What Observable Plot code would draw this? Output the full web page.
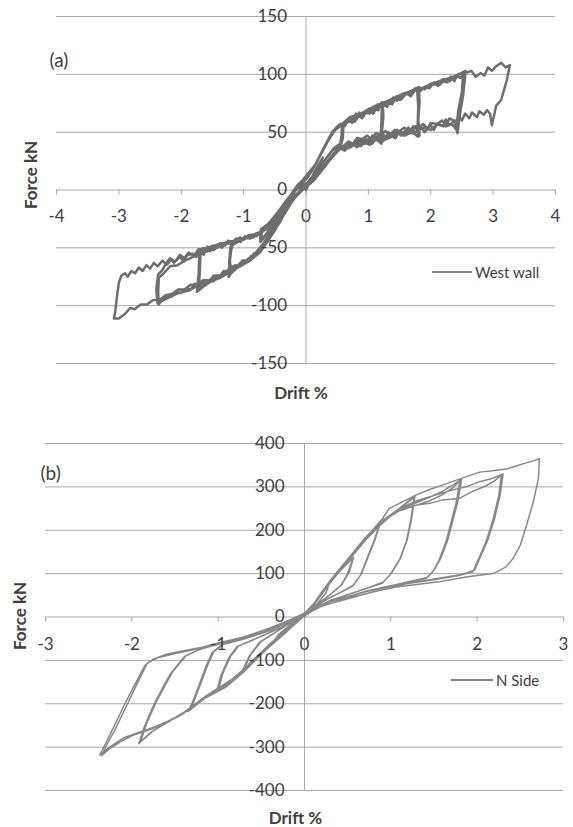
<!DOCTYPE html>
<html><head><meta charset="utf-8">
<script src="https://cdn.jsdelivr.net/npm/d3@7"></script>
<script src="https://cdn.jsdelivr.net/npm/@observablehq/plot@0.6"></script>
<style>
body{margin:0;background:#fff;}
#wrap{position:relative;width:573px;height:827px;font-family:Lato,"Open Sans",sans-serif;}
.panel{position:relative;width:573px;}
.panel svg{display:block;}
.legend{position:absolute;display:flex;align-items:center;height:18px;font-size:15px;color:#404040;white-space:nowrap;}
.legend .sw{display:inline-block;height:0;border-top:2px solid #858585;margin-right:3px;}
</style></head><body>
<div id="wrap"></div>
<script>
// ---- Panel (a): West wall, drift % vs force kN ----
const aXTicks = [-4,-3,-2,-1,0,1,2,3,4];
const aYTicks = [-150,-100,-50,0,50,100,150];
const westWall = [
[0,0],[0.06,7],[0.13,15],[0.2,22],[0.27,28],[0.22,22],[0.12,13],[0.02,6],[-0.08,1],[-0.18,-6],[-0.28,-14],[-0.36,-20],[-0.3,-12],[-0.2,-3],[-0.1,5],[0,9],
[0.1,17],[0.2,27],[0.3,37],[0.38,45],[0.45,51],[0.52,54],[0.58,57],[0.57,47],[0.55,40],[0.46,37],[0.36,30],[0.25,22],[0.12,12],[0,4],[-0.12,-2],[-0.25,-9],[-0.38,-19],[-0.5,-29],[-0.62,-37],[-0.7,-43],[-0.72,-34],[-0.6,-29],[-0.45,-19],[-0.3,-8],[-0.15,2],[0,11],
[0.12,19],[0.24,31],[0.35,42],[0.44,50],[0.52,55],[0.6,58],[0.59,45],[0.56,39],[0.44,35],[0.33,28],[0.2,18],[0.06,7],[-0.08,0],[-0.22,-7],[-0.36,-17],[-0.5,-28],[-0.64,-38],[-0.73,-45],[-0.74,-36],[-0.62,-31],[-0.46,-21],[-0.3,-9],[-0.14,3],[0,12],
[0.15,22],[0.3,37],[0.42,50],[0.52,56],[0.62,58],[0.7,62],[0.78,59],[0.86,65],[0.95,67],[1.02,66],[1.1,71],[1.17,72],[1.23,75],[1.24,63],[1.22,52],[1.23,42],[1.15,46],[1.06,40],[0.97,43],[0.88,38],[0.78,41],[0.68,36],[0.58,38],[0.48,33],[0.38,27],[0.24,17],[0.08,6],[-0.08,0],[-0.22,-7],[-0.36,-18],[-0.5,-30],[-0.62,-42],[-0.75,-51],[-0.88,-58],[-1.0,-63],[-1.1,-67],[-1.2,-72],[-1.22,-61],[-1.2,-52],[-1.17,-46],[-1.05,-43],[-0.92,-41],[-0.8,-40],[-0.68,-35],[-0.55,-30],[-0.42,-21],[-0.28,-8],[-0.12,4],[0,11],
[0.14,21],[0.28,35],[0.4,48],[0.5,55],[0.6,57],[0.7,63],[0.8,62],[0.9,66],[1.0,69],[1.08,68],[1.16,73],[1.22,76],[1.21,60],[1.2,47],[1.21,40],[1.12,44],[1.02,39],[0.92,42],[0.82,37],[0.72,40],[0.62,35],[0.52,36],[0.42,30],[0.3,22],[0.16,12],[0.02,3],[-0.12,-2],[-0.26,-10],[-0.4,-21],[-0.54,-34],[-0.68,-46],[-0.82,-55],[-0.96,-61],[-1.08,-66],[-1.18,-70],[-1.24,-75],[-1.23,-62],[-1.21,-49],[-1.1,-45],[-0.98,-42],[-0.85,-41],[-0.72,-37],[-0.6,-32],[-0.46,-24],[-0.32,-11],[-0.16,2],[0,10],
[0.15,22],[0.3,38],[0.42,50],[0.55,57],[0.62,55],[0.68,61],[0.74,58],[0.8,66],[0.9,62],[1.0,70],[1.06,67],[1.1,71],[1.16,69],[1.2,75],[1.3,72],[1.4,80],[1.46,77],[1.5,81],[1.6,84],[1.68,81],[1.76,87],[1.81,89],[1.82,76],[1.8,61],[1.82,47],[1.76,55],[1.72,51],[1.66,49],[1.62,53],[1.52,47],[1.46,52],[1.42,45],[1.32,50],[1.26,43],[1.22,47],[1.12,43],[1.06,47],[1.02,40],[0.92,44],[0.86,38],[0.82,42],[0.72,37],[0.66,41],[0.62,34],[0.52,37],[0.42,29],[0.28,19],[0.12,8],[-0.04,1],[-0.2,-8],[-0.34,-20],[-0.48,-33],[-0.62,-45],[-0.76,-55],[-0.84,-55],[-0.9,-61],[-1.0,-61],[-1.05,-66],[-1.14,-65],[-1.2,-71],[-1.28,-70],[-1.35,-75],[-1.42,-74],[-1.48,-79],[-1.56,-78],[-1.6,-82],[-1.7,-85],[-1.75,-88],[-1.72,-72],[-1.71,-53],[-1.64,-56],[-1.6,-51],[-1.54,-53],[-1.5,-48],[-1.42,-50],[-1.38,-46],[-1.3,-48],[-1.25,-44],[-1.16,-46],[-1.12,-42],[-1.0,-43],[-0.92,-39],[-0.86,-41],[-0.72,-37],[-0.58,-31],[-0.44,-22],[-0.3,-9],[-0.14,4],[0,11],
[0.15,22],[0.3,38],[0.43,51],[0.56,56],[0.7,63],[0.84,65],[0.98,69],[1.12,73],[1.26,76],[1.4,79],[1.54,83],[1.66,85],[1.78,88],[1.8,72],[1.79,56],[1.8,46],[1.7,50],[1.58,47],[1.46,49],[1.34,45],[1.2,46],[1.06,42],[0.94,40],[0.8,41],[0.66,37],[0.54,36],[0.44,31],[0.3,21],[0.14,9],[-0.02,2],[-0.18,-6],[-0.32,-18],[-0.46,-31],[-0.6,-43],[-0.74,-54],[-0.9,-61],[-1.06,-66],[-1.22,-71],[-1.38,-76],[-1.52,-79],[-1.64,-83],[-1.72,-87],[-1.7,-68],[-1.69,-51],[-1.58,-50],[-1.46,-48],[-1.32,-46],[-1.18,-44],[-1.04,-43],[-0.9,-39],[-0.76,-38],[-0.62,-33],[-0.48,-25],[-0.34,-12],[-0.18,1],[0,10],
[0.15,22],[0.3,38],[0.42,50],[0.55,57],[0.62,56],[0.7,61],[0.78,60],[0.85,67],[0.92,64],[1.0,69],[1.08,66],[1.15,74],[1.22,71],[1.3,76],[1.38,74],[1.45,81],[1.52,78],[1.6,83],[1.68,82],[1.75,88],[1.82,85],[1.9,89],[1.98,88],[2.05,93],[2.12,90],[2.2,94],[2.26,93],[2.32,98],[2.38,94],[2.42,99],[2.5,101],[2.56,103],[2.52,82],[2.46,63],[2.43,49],[2.38,60],[2.3,56],[2.24,61],[2.2,55],[2.1,57],[2.05,52],[2.0,56],[1.9,50],[1.84,55],[1.8,51],[1.7,49],[1.64,54],[1.6,48],[1.5,51],[1.44,45],[1.4,49],[1.3,44],[1.24,48],[1.2,43],[1.1,45],[1.04,40],[1.0,44],[0.9,39],[0.84,43],[0.8,38],[0.7,40],[0.64,35],[0.6,38],[0.5,33],[0.4,27],[0.26,18],[0.1,7],[-0.06,0],[-0.2,-8],[-0.35,-21],[-0.5,-35],[-0.65,-47],[-0.8,-56],[-0.88,-57],[-0.95,-62],[-1.02,-61],[-1.1,-67],[-1.18,-66],[-1.25,-71],[-1.32,-70],[-1.4,-76],[-1.48,-74],[-1.55,-79],[-1.62,-78],[-1.7,-83],[-1.78,-81],[-1.85,-86],[-1.92,-85],[-2.0,-89],[-2.08,-88],[-2.15,-92],[-2.22,-91],[-2.28,-95],[-2.38,-98],[-2.4,-86],[-2.37,-73],[-2.3,-69],[-2.26,-65],[-2.22,-64],[-2.16,-60],[-2.12,-63],[-2.02,-58],[-1.96,-62],[-1.92,-57],[-1.82,-55],[-1.76,-58],[-1.72,-53],[-1.6,-53],[-1.54,-49],[-1.48,-52],[-1.36,-46],[-1.3,-48],[-1.24,-44],[-1.12,-45],[-1.06,-41],[-1.0,-43],[-0.86,-39],[-0.72,-36],[-0.58,-31],[-0.44,-22],[-0.3,-9],[-0.14,4],[0,11],
[0.15,22],[0.3,38],[0.44,51],[0.58,57],[0.74,63],[0.9,66],[1.06,71],[1.22,73],[1.38,79],[1.54,81],[1.7,86],[1.86,88],[2.02,92],[2.18,95],[2.32,97],[2.44,100],[2.52,102],[2.5,85],[2.44,68],[2.41,52],[2.34,57],[2.24,55],[2.12,57],[2.0,52],[1.88,54],[1.76,50],[1.64,52],[1.52,48],[1.4,50],[1.28,46],[1.16,47],[1.04,43],[0.92,44],[0.8,40],[0.68,40],[0.56,36],[0.46,31],[0.32,22],[0.16,11],[0,3],[-0.16,-5],[-0.3,-16],[-0.45,-30],[-0.6,-43],[-0.76,-54],[-0.92,-61],[-1.08,-66],[-1.24,-71],[-1.4,-75],[-1.56,-80],[-1.72,-82],[-1.88,-87],[-2.04,-89],[-2.2,-93],[-2.32,-96],[-2.36,-99],[-2.37,-88],[-2.36,-76],[-2.28,-72],[-2.18,-66],[-2.06,-65],[-1.94,-61],[-1.82,-58],[-1.7,-55],[-1.58,-53],[-1.46,-49],[-1.34,-48],[-1.2,-45],[-1.06,-43],[-0.92,-41],[-0.78,-38],[-0.64,-34],[-0.5,-27],[-0.36,-14],[-0.2,-1],[0,10],
[0.15,22],[0.3,38],[0.42,50],[0.6,58],[0.7,59],[0.8,64],[0.9,63],[1.0,70],[1.1,68],[1.2,74],[1.3,73],[1.4,80],[1.5,78],[1.6,84],[1.7,83],[1.8,89],[1.9,87],[2.0,92],[2.1,91],[2.2,96],[2.3,94],[2.4,99],[2.47,97],[2.55,101],[2.65,103],[2.72,98],[2.8,101],[2.86,99],[2.92,106],[2.98,103],[3.05,107],[3.13,110],[3.2,106],[3.27,108],[3.22,95],[3.13,78],[3.05,73],[2.98,56],[2.95,66],[2.9,69],[2.85,65],[2.78,68],[2.74,63],[2.66,67],[2.62,62],[2.55,66],[2.5,60],[2.45,64],[2.4,59],[2.3,62],[2.25,56],[2.18,60],[2.1,57],[2.0,58],[1.95,53],[1.88,57],[1.8,54],[1.72,55],[1.65,50],[1.58,54],[1.5,51],[1.42,52],[1.35,47],[1.28,51],[1.2,48],[1.12,49],[1.05,44],[0.98,47],[0.9,44],[0.82,45],[0.75,40],[0.68,42],[0.6,38],[0.48,33],[0.34,23],[0.18,12],[0.02,4],[-0.14,-4],[-0.28,-14],[-0.42,-28],[-0.58,-41],[-0.76,-54],[-0.86,-57],[-0.95,-62],[-1.05,-63],[-1.15,-68],[-1.25,-69],[-1.35,-74],[-1.45,-74],[-1.55,-78],[-1.65,-78],[-1.75,-82],[-1.85,-82],[-1.95,-86],[-2.05,-86],[-2.15,-90],[-2.25,-91],[-2.35,-95],[-2.45,-95],[-2.55,-99],[-2.65,-99],[-2.75,-103],[-2.82,-102],[-2.9,-107],[-3.0,-111],[-3.08,-111],[-3.06,-106],[-3.03,-92],[-3.0,-80],[-2.96,-74],[-2.9,-72],[-2.86,-75],[-2.8,-70],[-2.74,-72],[-2.68,-67],[-2.62,-70],[-2.56,-65],[-2.5,-68],[-2.44,-63],[-2.38,-66],[-2.3,-61],[-2.25,-64],[-2.18,-59],[-2.1,-62],[-2.02,-56],[-1.95,-59],[-1.88,-54],[-1.8,-57],[-1.72,-51],[-1.65,-54],[-1.58,-49],[-1.5,-52],[-1.42,-47],[-1.35,-50],[-1.28,-45],[-1.2,-47],[-1.12,-42],[-1.05,-45],[-0.98,-40],[-0.9,-42],[-0.75,-37],[-0.6,-33],[-0.45,-24],[-0.3,-11],[-0.15,1],[0,6]
];

// ---- Panel (b): N Side ----
const bXTicks = [-3,-2,-1,0,1,2,3];
const bYTicks = [-400,-300,-200,-100,0,100,200,300,400];
const nSide = [
[0,0],[0.1,28],[0.2,58],[0.3,84],[0.25,56],[0.15,31],[0,6],[-0.15,-20],[-0.3,-48],[-0.4,-68],[-0.3,-40],[-0.15,-16],[0,8],
[0.12,34],[0.26,72],[0.4,104],[0.5,124],[0.56,136],[0.5,100],[0.42,72],[0.3,52],[0.15,29],[0,8],[-0.2,-26],[-0.4,-62],[-0.6,-100],[-0.7,-120],[-0.62,-86],[-0.5,-56],[-0.3,-31],[-0.1,-6],[0,6],
[0.12,33],[0.27,74],[0.41,106],[0.52,128],[0.57,138],[0.52,104],[0.43,74],[0.31,54],[0.16,31],[0,9],[-0.2,-25],[-0.41,-64],[-0.6,-103],[-0.72,-124],[-0.64,-90],[-0.52,-58],[-0.32,-33],[-0.12,-8],[0,5],
[0.1,28],[0.3,85],[0.5,131],[0.67,172],[0.8,200],[0.87,214],[0.81,178],[0.73,138],[0.65,97],[0.56,72],[0.42,57],[0.26,41],[0.1,20],[0,6],[-0.2,-29],[-0.45,-76],[-0.7,-121],[-0.88,-152],[-1.0,-170],[-0.95,-132],[-0.86,-92],[-0.76,-66],[-0.52,-46],[-0.26,-23],[0,5],
[0.1,27],[0.31,87],[0.51,133],[0.68,175],[0.81,203],[0.88,217],[0.82,180],[0.74,140],[0.66,100],[0.57,74],[0.43,58],[0.27,42],[0.11,21],[0,5],[-0.21,-31],[-0.46,-79],[-0.71,-124],[-0.9,-156],[-1.02,-173],[-0.97,-136],[-0.88,-95],[-0.78,-68],[-0.54,-48],[-0.28,-25],[0,4],
[0.1,25],[0.3,80],[0.5,128],[0.7,176],[0.9,216],[1.06,243],[1.18,262],[1.27,276],[1.23,222],[1.18,174],[1.1,132],[0.99,97],[0.9,78],[0.72,66],[0.5,51],[0.3,38],[0.1,18],[0,4],[-0.2,-31],[-0.45,-76],[-0.7,-126],[-0.9,-160],[-1.14,-185],[-1.32,-212],[-1.28,-194],[-1.2,-152],[-1.12,-110],[-1.05,-80],[-0.94,-63],[-0.7,-51],[-0.4,-31],[-0.15,-9],[0,7],
[0.1,26],[0.31,82],[0.51,130],[0.71,178],[0.91,218],[1.07,246],[1.19,265],[1.28,279],[1.24,226],[1.19,178],[1.11,135],[1.0,99],[0.91,80],[0.73,67],[0.51,52],[0.31,39],[0.11,19],[0,5],[-0.21,-33],[-0.46,-78],[-0.71,-128],[-0.92,-163],[-1.16,-188],[-1.35,-218],[-1.3,-198],[-1.22,-156],[-1.14,-113],[-1.07,-82],[-0.96,-64],[-0.72,-52],[-0.42,-32],[-0.16,-10],[0,6],
[0.1,25],[0.3,82],[0.5,130],[0.7,178],[0.9,218],[1.1,248],[1.3,264],[1.45,276],[1.6,290],[1.7,302],[1.8,315],[1.76,266],[1.7,220],[1.64,174],[1.56,132],[1.49,105],[1.41,89],[1.2,80],[1.0,71],[0.7,58],[0.5,46],[0.3,35],[0.1,15],[0,3],[-0.2,-30],[-0.45,-76],[-0.83,-142],[-1.14,-182],[-1.4,-220],[-1.6,-244],[-1.75,-262],[-1.9,-288],[-1.83,-246],[-1.72,-197],[-1.61,-156],[-1.53,-127],[-1.37,-89],[-1.2,-73],[-1.0,-62],[-0.7,-48],[-0.4,-28],[-0.15,-6],[0,8],
[0.1,26],[0.3,84],[0.5,132],[0.7,180],[0.9,220],[1.1,246],[1.3,258],[1.45,268],[1.6,282],[1.72,298],[1.82,318],[1.78,270],[1.72,224],[1.66,178],[1.58,136],[1.5,108],[1.42,91],[1.22,82],[1.0,72],[0.72,60],[0.5,47],[0.3,36],[0.1,16],[0,4],[-0.2,-31],[-0.46,-78],[-0.84,-145],[-1.15,-185],[-1.42,-224],[-1.62,-247],[-1.78,-266],[-1.92,-292],[-1.85,-250],[-1.74,-200],[-1.63,-158],[-1.55,-130],[-1.39,-91],[-1.22,-75],[-1.0,-63],[-0.72,-49],[-0.42,-29],[-0.16,-7],[0,8],
[0.1,25],[0.3,84],[0.5,132],[0.7,180],[0.9,220],[1.1,245],[1.3,258],[1.45,262],[1.6,270],[1.8,274],[1.95,290],[2.1,302],[2.2,314],[2.28,327],[2.25,280],[2.18,222],[2.1,172],[2.03,140],[1.95,104],[1.8,96],[1.5,86],[1.2,77],[1.0,70],[0.7,58],[0.5,45],[0.3,35],[0.1,15],[0,3],[-0.2,-32],[-0.45,-76],[-0.83,-143],[-1.14,-183],[-1.4,-222],[-1.6,-242],[-1.8,-258],[-1.95,-268],[-2.1,-279],[-2.25,-299],[-2.37,-318],[-2.3,-290],[-2.22,-258],[-2.07,-196],[-1.95,-150],[-1.85,-112],[-1.76,-98],[-1.6,-86],[-1.4,-78],[-1.2,-70],[-1.0,-60],[-0.7,-46],[-0.4,-25],[-0.15,-5],[0,9],
[0.1,26],[0.3,85],[0.5,133],[0.7,182],[0.9,222],[1.1,250],[1.3,268],[1.5,280],[1.7,292],[1.87,300],[2.03,312],[2.18,320],[2.3,330],[2.27,285],[2.2,226],[2.12,176],[2.05,144],[1.97,108],[1.82,98],[1.52,88],[1.22,78],[1.0,71],[0.72,59],[0.5,46],[0.3,36],[0.1,16],[0,4],[-0.2,-33],[-0.46,-78],[-0.85,-146],[-1.16,-186],[-1.42,-225],[-1.62,-246],[-1.82,-262],[-1.98,-272],[-2.12,-286],[-2.26,-304],[-2.35,-320],[-2.29,-294],[-2.2,-262],[-2.05,-200],[-1.92,-146],[-1.82,-106],[-1.7,-94],[-1.5,-84],[-1.3,-76],[-1.1,-66],[-0.8,-52],[-0.5,-34],[-0.2,-10],[0,8],
[0.1,25],[0.3,84],[0.5,132],[0.7,180],[0.9,226],[0.98,250],[1.1,262],[1.29,281],[1.45,294],[1.64,307],[1.85,322],[2.03,334],[2.2,338],[2.34,341],[2.45,348],[2.53,353],[2.65,360],[2.72,365],[2.71,320],[2.65,265],[2.57,210],[2.5,166],[2.42,136],[2.33,115],[2.2,101],[1.87,92],[1.56,81],[1.3,75],[1.06,69],[0.8,58],[0.48,41],[0.25,28],[0.1,18],[0,5]
];

const grid = "#a8a8a8", ink = "#404040", font = "Lato, 'Open Sans', sans-serif";

function panel(c) {
  const div = document.createElement("div");
  div.className = "panel";
  const chart = Plot.plot({
    width: 573, height: c.height,
    marginTop: c.m[0], marginRight: c.m[1], marginBottom: c.m[2], marginLeft: c.m[3],
    x: {domain: c.xDomain, axis: null},
    y: {domain: c.yDomain, axis: null},
    style: {fontFamily: font, background: "#fff", overflow: "visible"},
    marks: [
      Plot.ruleY(c.yTicks, {stroke: grid, strokeWidth: 1}),
      Plot.ruleX([0], {stroke: grid, strokeWidth: 1}),
      Plot.ruleX(c.xTicks, {x: d => d, y1: () => 0, y2: () => 0, insetBottom: -5, stroke: grid}),
      Plot.line(c.data, {x: d => d[0], y: d => d[1], stroke: c.stroke, strokeWidth: c.sw, strokeLinejoin: "round", curve: "linear"}),
      Plot.text(c.yTicks, {x: () => 0, y: d => d, text: d => String(d), dx: c.yLabDx, textAnchor: "end", lineAnchor: "middle", fontSize: 17, fill: ink}),
      Plot.text(c.xTicks, {x: d => d, y: () => 0, text: d => String(d), dy: c.xLabDy, textAnchor: "middle", lineAnchor: "middle", fontSize: 17, fill: ink}),
      Plot.text([c.tag], {frameAnchor: "top-left", dx: c.tagPos[0], dy: c.tagPos[1], textAnchor: "start", lineAnchor: "middle", fontSize: 19, fill: ink}),
      Plot.text(["Force kN"], {frameAnchor: "left", dx: c.yTitle[0], dy: c.yTitle[1], rotate: -90, textAnchor: "middle", lineAnchor: "middle", fontSize: 17, fontWeight: "bold", fill: ink}),
      Plot.text(["Drift %"], {frameAnchor: "bottom", dx: c.xTitle[0], dy: c.xTitle[1], textAnchor: "middle", lineAnchor: "middle", fontSize: 17, fontWeight: "bold", fill: ink})
    ]
  });
  div.appendChild(chart);
  const lg = document.createElement("div");
  lg.className = "legend";
  lg.style.left = c.legend[0] + "px";
  lg.style.top = (c.legend[1] - 9) + "px";
  lg.innerHTML = `<span class="sw" style="width:${c.legend[2]}px"></span><span>${c.name}</span>`;
  div.appendChild(lg);
  return div;
}

const wrap = document.getElementById("wrap");
wrap.appendChild(panel({
  data: westWall, name: "West wall", tag: "(a)",
  height: 405, m: [16, 18, 42, 56],
  xDomain: [-4, 4], yDomain: [-150, 150], xTicks: aXTicks, yTicks: aYTicks,
  stroke: "#6e6e6e", sw: 2.5,
  yLabDx: -19, xLabDy: 27, tagPos: [-7, 44], yTitle: [-25, -15], xTitle: [-5, 30],
  legend: [432, 272, 40]
}));
wrap.appendChild(panel({
  data: nSide, name: "N Side", tag: "(b)",
  height: 422, m: [38, 10, 37, 45],
  xDomain: [-3, 3], yDomain: [-400, 400], xTicks: bXTicks, yTicks: bYTicks,
  stroke: "#888888", sw: 1.5,
  yLabDx: -20, xLabDy: 28, tagPos: [-5, 30], yTitle: [-25, -1], xTitle: [-9, 28],
  legend: [451, 275, 42]
}));
</script>
</body></html>
